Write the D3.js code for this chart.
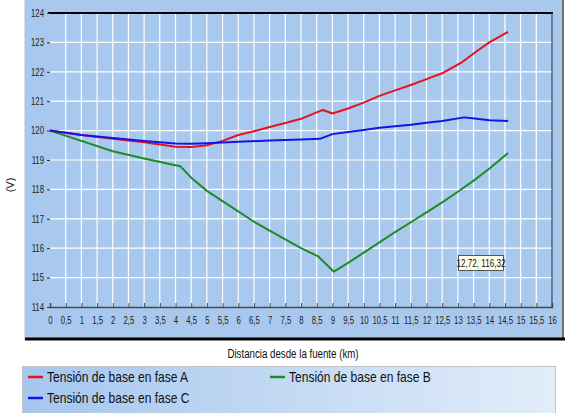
<!DOCTYPE html>
<html><head><meta charset="utf-8">
<script src="https://cdn.jsdelivr.net/npm/d3@7"></script>
<style>
body{margin:0;background:#fff;}
svg text{font-family:"Liberation Sans",Arial,sans-serif;}
</style></head>
<body><svg id="c" width="571" height="413"></svg>
<script>
const xTicks = [0,0.5,1,1.5,2,2.5,3,3.5,4,4.5,5,5.5,6,6.5,7,7.5,8,8.5,9,9.5,10,10.5,11,11.5,12,12.5,13,13.5,14,14.5,15,15.5,16];
const yTicks = [114,115,116,117,118,119,120,121,122,123,124];
const seriesNames = ["Tensión de base en fase A","Tensión de base en fase B","Tensión de base en fase C"];
const seriesColors = ["#e4141e","#1e8c24","#1414e6"];
const xA = [0,1,2,3,4,4.5,5,5.5,6,6.5,7,7.5,8,8.5,8.7,9,9.5,10,10.5,11,11.5,12,12.5,13.15,13.6,14,14.6];
const yA = [120,119.85,119.72,119.6,119.45,119.44,119.5,119.65,119.85,119.98,120.12,120.26,120.4,120.62,120.7,120.58,120.75,120.95,121.18,121.37,121.55,121.75,121.95,122.34,122.7,123.0,123.36];
const xB = [0,1,2,3,4.15,4.5,5,5.5,6,6.5,7,7.5,8,8.55,9.05,9.5,10,10.5,11,11.6,12,12.5,13,13.5,14,14.6];
const yB = [120,119.65,119.3,119.05,118.79,118.4,117.95,117.6,117.25,116.9,116.6,116.3,116.0,115.72,115.2,115.5,115.85,116.2,116.55,116.95,117.22,117.56,117.92,118.3,118.7,119.24];
const xC = [0,1,2,3,4,4.5,5,6,7,8,8.6,9,9.5,10,10.5,11,11.5,12,12.5,13.2,13.6,14,14.6];
const yC = [120,119.85,119.75,119.65,119.56,119.55,119.57,119.62,119.66,119.7,119.72,119.88,119.95,120.02,120.1,120.15,120.2,120.27,120.33,120.45,120.4,120.35,120.33];
const tipText = "12,72, 116,32";

const svg = d3.select("#c");
const L = 50, R = 552, T = 13, B = 307;
const x = d3.scaleLinear().domain([0,16]).range([L,R]);
const y = d3.scaleLinear().domain([114,124]).range([B,T]);
const bg = "#a9c8ee";
const SX = 0.74;

function ntext(parent, px, py, str, size, anchor, sx){
  return parent.append("g").attr("transform",`translate(${px},${py}) scale(${sx},1)`)
    .append("text").attr("text-anchor",anchor||"start").attr("font-size",size).attr("fill","#111").text(str);
}

// outer panel
svg.append("rect").attr("x",25).attr("y",-2).attr("width",538).attr("height",341).attr("fill",bg).attr("stroke","#b8c0c8").attr("stroke-width",1);
svg.append("line").attr("x1",563).attr("x2",563).attr("y1",0).attr("y2",340).attr("stroke","#707070").attr("stroke-width",2);
svg.append("line").attr("x1",25).attr("x2",565).attr("y1",339).attr("y2",339).attr("stroke","#000").attr("stroke-width",3);

// plot bg
svg.append("rect").attr("x",L).attr("y",T).attr("width",R-L).attr("height",B-T).attr("fill",bg);

// grid
svg.append("g").selectAll("line").data(xTicks.filter(d=>d>0&&d<16)).join("line")
  .attr("x1",d=>x(d)).attr("x2",d=>x(d)).attr("y1",T).attr("y2",B)
  .attr("stroke","#fff").attr("stroke-width",1.2);
svg.append("g").selectAll("line").data(yTicks.filter(d=>d>114&&d<124)).join("line")
  .attr("x1",L).attr("x2",R).attr("y1",d=>y(d)).attr("y2",d=>y(d))
  .attr("stroke","#fff").attr("stroke-width",1.2);

// frame
svg.append("line").attr("x1",L-2).attr("x2",R+1).attr("y1",T).attr("y2",T).attr("stroke","#000").attr("stroke-width",2);
svg.append("line").attr("x1",R).attr("x2",R).attr("y1",T).attr("y2",B).attr("stroke","#404850").attr("stroke-width",1.2);

// x axis
const xAxis = d3.axisBottom(x).tickValues(xTicks).tickSize(-4).tickPadding(10)
  .tickFormat(d=>String(d).replace(".",","));
const gx = svg.append("g").attr("transform",`translate(0,${B})`).call(xAxis);
gx.select(".domain").attr("stroke","#404850").attr("stroke-width",1.5);
gx.selectAll(".tick line").attr("stroke","#404850");
gx.selectAll("text").attr("font-size",10.5).attr("fill","#222").attr("font-family","Liberation Sans")
  .attr("transform",`scale(${SX},1)`);

// y axis
const yAxis = d3.axisLeft(y).tickValues(yTicks).tickSize(3).tickPadding(3).tickFormat(d=>d);
const gy = svg.append("g").attr("transform",`translate(${L},0)`).call(yAxis);
gy.select(".domain").remove();
gy.selectAll(".tick line").attr("stroke","#333");
gy.selectAll("text").attr("font-size",10.5).attr("fill","#222").attr("font-family","Liberation Sans")
  .attr("x",-6/SX).attr("transform",`scale(${SX},1)`);

// lines
const line = d3.line().x(d=>x(d[0])).y(d=>y(d[1]));
const data = [d3.zip(xA,yA), d3.zip(xB,yB), d3.zip(xC,yC)];
[1,0,2].forEach(i=>{
  svg.append("path").attr("d",line(data[i])).attr("fill","none")
    .attr("stroke",seriesColors[i]).attr("stroke-width",2).attr("stroke-linejoin","round");
});

// tooltip
svg.append("rect").attr("x",458.5).attr("y",255.5).attr("width",45).attr("height",15).attr("fill","#ffffe8").attr("stroke","#333").attr("stroke-width",0.8);
ntext(svg, 481, 267, tipText, 11, "middle", SX);

// titles
ntext(svg, 293, 358, "Distancia desde la fuente (km)", 13.5, "middle", 0.72);
svg.append("g").attr("transform","translate(14,185) rotate(-90)")
  .append("text").attr("text-anchor","middle").attr("font-size",11).attr("fill","#111").text("(V)");

// legend
const defs = svg.append("defs");
const gr = defs.append("linearGradient").attr("id","lg");
gr.append("stop").attr("offset","0%").attr("stop-color","#a5c6ee");
gr.append("stop").attr("offset","100%").attr("stop-color","#e2edf9");
svg.append("rect").attr("x",22.5).attr("y",366.5).attr("width",533).attr("height",50).attr("fill","url(#lg)").attr("stroke","#c0c4c8");
const legPos = [[28,377],[270,377],[28,398]];
legPos.forEach((p,i)=>{
  svg.append("line").attr("x1",p[0]).attr("x2",p[0]+15).attr("y1",p[1]).attr("y2",p[1]).attr("stroke",seriesColors[i]).attr("stroke-width",2.5);
  ntext(svg, p[0]+19, p[1]+5, seriesNames[i], 14, "start", 0.86);
});
</script></body></html>
